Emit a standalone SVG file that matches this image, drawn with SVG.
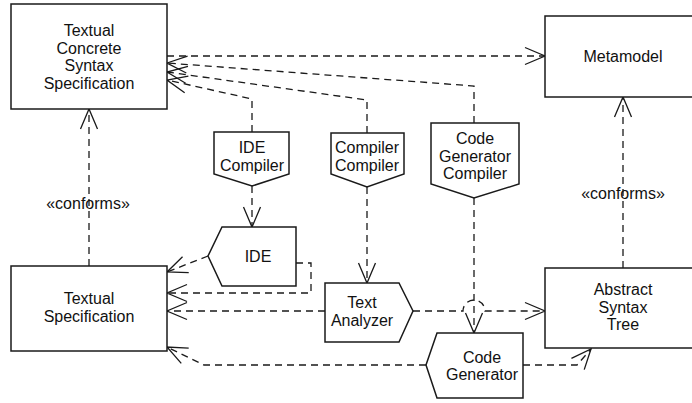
<svg xmlns="http://www.w3.org/2000/svg" width="692" height="403" viewBox="0 0 692 403">
  <style>
    .shape { fill: #ffffff; stroke: #1a1a1a; stroke-width: 1.5; }
    .label { font-family: "Liberation Sans", Arial, sans-serif; font-size: 16px; fill: #111111; text-anchor: middle; }
    .conn { fill: none; stroke: #1a1a1a; stroke-width: 1.3; stroke-dasharray: 7 5; }
    .head { fill: none; stroke: #1a1a1a; stroke-width: 1.3; }
  </style>
  <defs>
    <marker id="open" markerUnits="userSpaceOnUse" markerWidth="30" markerHeight="30" viewBox="-25 -12 30 24" refX="0" refY="0" orient="auto" overflow="visible">
      <path class="head" d="M-20,-8.5 L0,0 L-20,8.5"/>
    </marker>
  </defs>

  <rect width="692" height="403" fill="#ffffff"/>

  <!-- connectors -->
  <g id="connectors">
    <!-- spec to metamodel -->
    <path class="conn" d="M167,56 H545" marker-end="url(#open)"/>
    <!-- compilers to concrete syntax spec -->
    <path class="conn" d="M252,132 V99 L167,80" marker-end="url(#open)"/>
    <path class="conn" d="M367,133 V100 L167,72" marker-end="url(#open)"/>
    <path class="conn" d="M474,123 V86 L167,63" marker-end="url(#open)"/>
    <!-- compilers produce tools -->
    <path class="conn" d="M252,186 V227" marker-end="url(#open)"/>
    <path class="conn" d="M367,187 V283" marker-end="url(#open)"/>
    <path class="conn" d="M474,198 V333" marker-end="url(#open)"/>
    <!-- text analyzer to AST, hopping over the vertical line -->
    <path class="conn" d="M413,311 H463 A11,11 0 0 1 485,311 H545" marker-end="url(#open)"/>
    <!-- tools to textual specification -->
    <path class="conn" d="M325,311 H167" marker-end="url(#open)"/>
    <path class="conn" d="M208,256 L167,272" marker-end="url(#open)"/>
    <path class="conn" d="M296,263 H311 V293 H167" marker-end="url(#open)"/>
    <path class="conn" d="M426,365 H204 L167,347" marker-end="url(#open)"/>
    <!-- code generator to AST -->
    <path class="conn" d="M523,365 H577 L591,349" marker-end="url(#open)"/>
    <!-- conformance -->
    <path class="conn" d="M89,266 V109" marker-end="url(#open)"/>
    <path class="conn" d="M623,268 V97" marker-end="url(#open)"/>
    <text class="label" x="88" y="209">«conforms»</text>
    <text class="label" x="623" y="199">«conforms»</text>
  </g>

  <g id="concrete-syntax-spec">
    <rect class="shape" x="11" y="4" width="156" height="105"/>
    <text class="label" x="89" y="36">Textual</text>
    <text class="label" x="89" y="53.5">Concrete</text>
    <text class="label" x="89" y="71">Syntax</text>
    <text class="label" x="89" y="88.5">Specification</text>
  </g>

  <g id="metamodel">
    <rect class="shape" x="545" y="16" width="160" height="81"/>
    <text class="label" x="623" y="62">Metamodel</text>
  </g>

  <g id="ide-compiler">
    <polygon class="shape" points="214,132 289,132 289,174 252,186 214,174"/>
    <text class="label" x="252" y="153">IDE</text>
    <text class="label" x="252" y="170.5">Compiler</text>
  </g>

  <g id="compiler-compiler">
    <polygon class="shape" points="331,133 404,133 404,174 367,187 331,174"/>
    <text class="label" x="367" y="153">Compiler</text>
    <text class="label" x="367" y="170.5">Compiler</text>
  </g>

  <g id="code-generator-compiler">
    <polygon class="shape" points="431,123 519,123 519,184 474,198 431,184"/>
    <text class="label" x="475" y="144">Code</text>
    <text class="label" x="475" y="161.5">Generator</text>
    <text class="label" x="475" y="179">Compiler</text>
  </g>

  <g id="ide">
    <polygon class="shape" points="222,227 296,227 296,286 222,286 208,256"/>
    <text class="label" x="258" y="262">IDE</text>
  </g>

  <g id="textual-spec">
    <rect class="shape" x="11" y="266" width="156" height="85"/>
    <text class="label" x="89" y="304">Textual</text>
    <text class="label" x="89" y="322">Specification</text>
  </g>

  <g id="text-analyzer">
    <polygon class="shape" points="325,283 399,283 413,311 399,342 325,342"/>
    <text class="label" x="362" y="308">Text</text>
    <text class="label" x="362" y="326">Analyzer</text>
  </g>

  <g id="code-generator">
    <polygon class="shape" points="437,333 523,333 523,398 437,398 426,365"/>
    <text class="label" x="482" y="362.5">Code</text>
    <text class="label" x="482" y="380">Generator</text>
  </g>

  <g id="abstract-syntax-tree">
    <rect class="shape" x="545" y="268" width="160" height="80"/>
    <text class="label" x="623" y="295">Abstract</text>
    <text class="label" x="623" y="312.5">Syntax</text>
    <text class="label" x="623" y="330">Tree</text>
  </g>
</svg>
